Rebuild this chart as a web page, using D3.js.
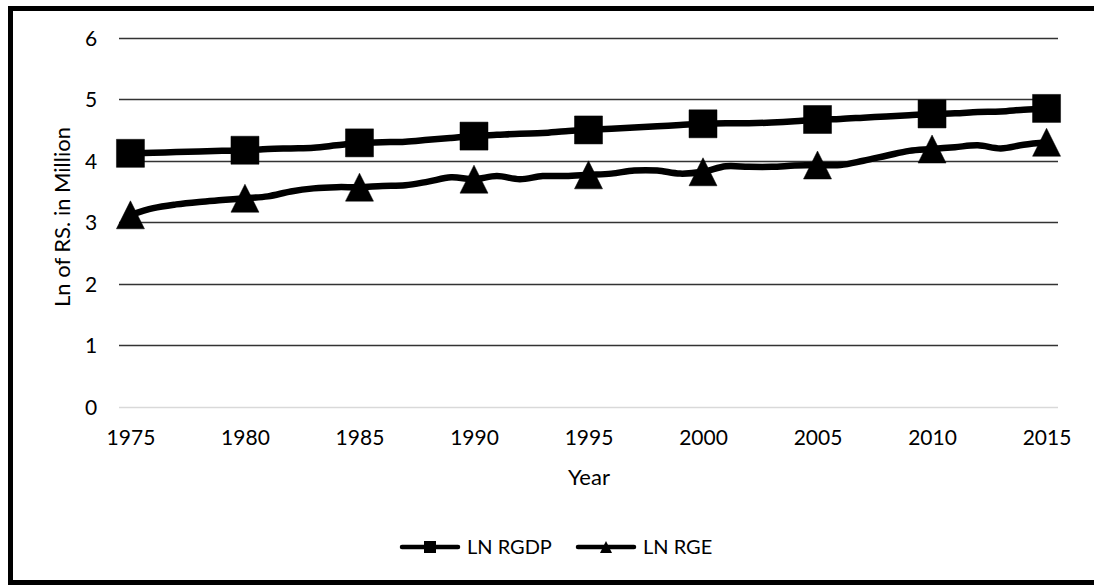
<!DOCTYPE html>
<html>
<head>
<meta charset="utf-8">
<script src="https://cdn.jsdelivr.net/npm/d3@7"></script>
<style>
  html, body { margin: 0; padding: 0; background: #fff; }
  svg { display: block; }
  text { font-family: Lato, "Open Sans", sans-serif; fill: #000; }
</style>
</head>
<body>
<svg id="chart" width="1094" height="585"></svg>
<script>
// Years on the category axis
const years = d3.range(1975, 2016);
// Natural log of real GDP (Rs. million)
const lnRGDP = [4.12, 4.13, 4.14, 4.15, 4.16, 4.17, 4.19, 4.20, 4.21, 4.25,
                4.29, 4.30, 4.31, 4.34, 4.37, 4.40, 4.42, 4.44, 4.45, 4.48,
                4.50, 4.52, 4.54, 4.56, 4.58, 4.60, 4.61, 4.61, 4.62, 4.64,
                4.67, 4.68, 4.70, 4.72, 4.74, 4.76, 4.77, 4.79, 4.80, 4.83,
                4.85];
// Natural log of real government expenditure (Rs. million)
const lnRGE = [3.12, 3.23, 3.29, 3.33, 3.36, 3.39, 3.42, 3.50, 3.55, 3.57,
               3.57, 3.59, 3.60, 3.66, 3.73, 3.70, 3.75, 3.70, 3.75, 3.75,
               3.77, 3.79, 3.84, 3.84, 3.79, 3.82, 3.91, 3.90, 3.90, 3.92,
               3.93, 3.93, 4.00, 4.08, 4.16, 4.19, 4.22, 4.25, 4.20, 4.26,
               4.30];
const yTicks = [0, 1, 2, 3, 4, 5, 6];
const tickYears = [1975, 1980, 1985, 1990, 1995, 2000, 2005, 2010, 2015];
const seriesNames = ["LN RGDP", "LN RGE"];

const svg = d3.select("#chart");

// Outer frame
svg.append("rect")
  .attr("x", 10.5).attr("y", 8.5)
  .attr("width", 1100).attr("height", 574)
  .attr("fill", "none").attr("stroke", "#000").attr("stroke-width", 5);

const plot = { left: 119, right: 1058, top: 37.7, bottom: 406.7 };

const x = d3.scalePoint().domain(years).range([plot.left, plot.right]).padding(0.5);
const y = d3.scaleLinear().domain([0, 6]).range([plot.bottom, plot.top]);

// Gridlines
svg.append("g")
  .selectAll("line")
  .data(yTicks.filter(d => d > 0))
  .join("line")
  .attr("x1", plot.left).attr("x2", plot.right)
  .attr("y1", d => Math.round(y(d)) + 0.5).attr("y2", d => Math.round(y(d)) + 0.5)
  .attr("stroke", "#333").attr("stroke-width", 1.3);

// Category axis baseline
svg.append("line")
  .attr("x1", plot.left).attr("x2", plot.right)
  .attr("y1", Math.round(y(0)) + 0.5).attr("y2", Math.round(y(0)) + 0.5)
  .attr("stroke", "#d9d9d9").attr("stroke-width", 1.5);

// Y tick labels
const yAxis = d3.axisLeft(y).tickValues(yTicks).tickFormat(d3.format("d")).tickSize(0).tickPadding(0);
const gy = svg.append("g").attr("transform", "translate(91,0)").call(yAxis);
gy.select(".domain").remove();
gy.selectAll("text").attr("font-size", 21).attr("font-family", "Lato, sans-serif")
  .attr("text-anchor", "middle").attr("dy", "0.35em").attr("x", 0);

// X tick labels
const xAxis = d3.axisBottom(x).tickValues(tickYears).tickSize(0).tickPadding(0);
const gx = svg.append("g").attr("transform", `translate(0,${plot.bottom + 30.5})`).call(xAxis);
gx.select(".domain").remove();
gx.selectAll("text").attr("font-size", 21).attr("font-family", "Lato, sans-serif")
  .attr("dy", "0.35em").attr("y", 0);

// Axis titles
svg.append("text")
  .attr("x", 589).attr("y", 477)
  .attr("text-anchor", "middle").attr("dy", "0.35em")
  .attr("font-size", 22).text("Year");

svg.append("text")
  .attr("transform", "translate(62,217) rotate(-90)")
  .attr("text-anchor", "middle").attr("dy", "0.35em")
  .attr("font-size", 22).text("Ln of RS. in Million");

// Series lines
const line = d3.line()
  .x((d, i) => x(years[i]))
  .y(d => y(d))
  .curve(d3.curveCatmullRom.alpha(0.5));

const series = [
  { name: seriesNames[0], values: lnRGDP, kind: "square" },
  { name: seriesNames[1], values: lnRGE, kind: "triangle" }
];

series.forEach(s => {
  svg.append("path")
    .datum(s.values)
    .attr("d", line)
    .attr("fill", "none")
    .attr("stroke", "#000")
    .attr("stroke-width", 6.5)
    .attr("stroke-linejoin", "round")
    .attr("stroke-linecap", "round");
});

// Marker shapes centred on their bounding box
function markerPath(kind, s) {
  const h = s / 2;
  if (kind === "square") {
    return `M${-h},${-h}H${h}V${h}H${-h}Z`;
  }
  return `M0,${-h}L${h},${h}H${-h}Z`;
}

// Markers every five years
series.forEach(s => {
  svg.append("g")
    .selectAll("path")
    .data(tickYears)
    .join("path")
    .attr("transform", yr => `translate(${x(yr)},${y(s.values[years.indexOf(yr)])})`)
    .attr("d", markerPath(s.kind, 28))
    .attr("fill", "#000")
    .attr("stroke", "#000")
    .attr("stroke-width", 0.5)
    .attr("stroke-linejoin", "round");
});

// Legend
const legendItems = [
  { name: seriesNames[0], kind: "square", x0: 402, x1: 458, tx: 467 },
  { name: seriesNames[1], kind: "triangle", x0: 578, x1: 634, tx: 643 }
];
const lg = svg.append("g");
legendItems.forEach(it => {
  lg.append("line")
    .attr("x1", it.x0).attr("x2", it.x1).attr("y1", 547).attr("y2", 547)
    .attr("stroke", "#000").attr("stroke-width", 4.5).attr("stroke-linecap", "round");
  lg.append("path")
    .attr("transform", `translate(${(it.x0 + it.x1) / 2},547)`)
    .attr("d", markerPath(it.kind, 12)).attr("fill", "#000");
  lg.append("text")
    .attr("x", it.tx).attr("y", 547).attr("dy", "0.35em")
    .attr("font-size", 20).text(it.name);
});
</script>
</body>
</html>
